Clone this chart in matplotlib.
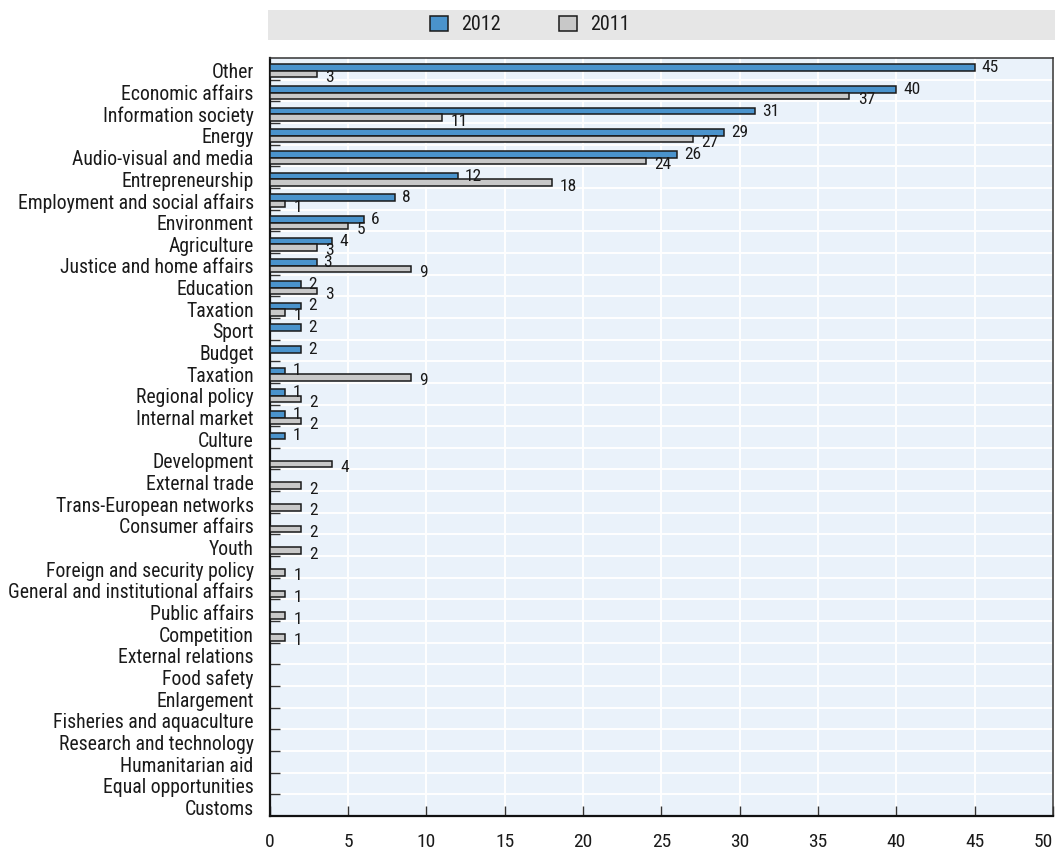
import numpy as np
import matplotlib.pyplot as plt
from matplotlib.patches import Rectangle, Patch

# ----------------------------- DATA -----------------------------

categories = [
    "Other", "Economic affairs", "Information society", "Energy",
    "Audio-visual and media", "Entrepreneurship", "Employment and social affairs",
    "Environment", "Agriculture", "Justice and home affairs", "Education",
    "Taxation", "Sport", "Budget", "Taxation", "Regional policy",
    "Internal market", "Culture", "Development", "External trade",
    "Trans-European networks", "Consumer affairs", "Youth",
    "Foreign and security policy", "General and institutional affairs",
    "Public affairs", "Competition", "External relations", "Food safety",
    "Enlargement", "Fisheries and aquaculture", "Research and technology",
    "Humanitarian aid", "Equal opportunities", "Customs",
]

values_2012 = [45, 40, 31, 29, 26, 12, 8, 6, 4, 3, 2, 2, 2, 2, 1, 1, 1, 1,
               None, None, None, None, None, None, None, None, None,
               None, None, None, None, None, None, None, None]

values_2011 = [3, 37, 11, 27, 24, 18, 1, 5, 3, 9, 3, 1, None, None, 9, 2, 2, None,
               4, 2, 2, 2, 2, 1, 1, 1, 1,
               None, None, None, None, None, None, None, None]

series_labels = ["2012", "2011"]

# ----------------------------- STYLE -----------------------------

plt.rcParams["font.family"] = ["Roboto Condensed", "Archivo Narrow", "DejaVu Sans"]

blue = "#4A93CC"
grey = "#C8C8C8"
edge = "#1A1A1A"
bg = "#EAF2FA"
text_col = "#1A1A1A"

fig = plt.figure(figsize=(10.6, 8.51), dpi=100)
ax = fig.add_axes([269.6 / 1060, 1 - 816 / 851, (1053 - 269.6) / 1060, (816 - 58) / 851])
ax.set_facecolor(bg)

y = np.arange(len(categories))
bar_h = 0.3

v12 = np.array([np.nan if v is None else v for v in values_2012], dtype=float)
v11 = np.array([np.nan if v is None else v for v in values_2011], dtype=float)

m12 = ~np.isnan(v12)
m11 = ~np.isnan(v11)
ax.barh(y[m12] - 0.05, v12[m12], height=bar_h, color=blue, edgecolor=edge, linewidth=1.1, zorder=3)
ax.barh(y[m11] + 0.25, v11[m11], height=bar_h, color=grey, edgecolor=edge, linewidth=1.1, zorder=3)

# value labels next to each bar
for yi, v in zip(y[m12], v12[m12]):
    ax.annotate(f"{int(v)}", (v, yi - 0.05), xytext=(5, 0), textcoords="offset points",
                va="center", ha="left", fontsize=12.5, color=text_col)
for yi, v in zip(y[m11], v11[m11]):
    ax.annotate(f"{int(v)}", (v, yi + 0.25), xytext=(6, -2.5), textcoords="offset points",
                va="center", ha="left", fontsize=12.5, color=text_col)

# ----------------------------- AXES -----------------------------

ax.set_xlim(0, 50)
ax.set_ylim(len(categories) - 0.5, -0.5)

ax.set_xticks(np.arange(0, 51, 5))
ax.set_yticks(y + 0.1)
ax.set_yticklabels(categories, fontsize=14.2, color=text_col)
ax.set_yticks(np.arange(len(categories) - 1) + 0.5, minor=True)

ax.tick_params(axis="y", which="major", length=0, pad=11.5)
ax.tick_params(axis="y", which="minor", direction="in", length=7, color="#333333", width=1)
ax.tick_params(axis="x", direction="in", length=7, color="#333333", width=1,
               labelsize=14, labelcolor=text_col, pad=12.5)

# last tick label sits inside the figure edge, as in the original
ax.get_xticklabels()[-1].set_horizontalalignment("right")

ax.grid(axis="x", color="white", linewidth=1.4, zorder=0)
ax.grid(axis="y", which="minor", color="white", linewidth=1.4, zorder=0)
ax.set_axisbelow(True)

for side in ["left", "bottom"]:
    ax.spines[side].set_linewidth(1.6)
    ax.spines[side].set_color("#111111")
for side in ["top", "right"]:
    ax.spines[side].set_linewidth(1.1)
    ax.spines[side].set_color("#333333")

# ----------------------------- LEGEND -----------------------------

fig.patches.append(Rectangle((268 / 1060, 1 - 40 / 851), (1055 - 268) / 1060, 30 / 851,
                             transform=fig.transFigure, facecolor="#E6E6E6", edgecolor="none"))
handles = [Patch(facecolor=blue, edgecolor=edge, linewidth=1.1),
           Patch(facecolor=grey, edgecolor=edge, linewidth=1.1)]
fig.legend(handles, series_labels, loc="center", bbox_to_anchor=(0.5, 1 - 25 / 851),
           ncol=2, frameon=False, fontsize=14.5, handlelength=0.9, handleheight=0.7,
           columnspacing=2.9, handletextpad=0.65, labelcolor=text_col)

fig.savefig("out.png", dpi=100)
